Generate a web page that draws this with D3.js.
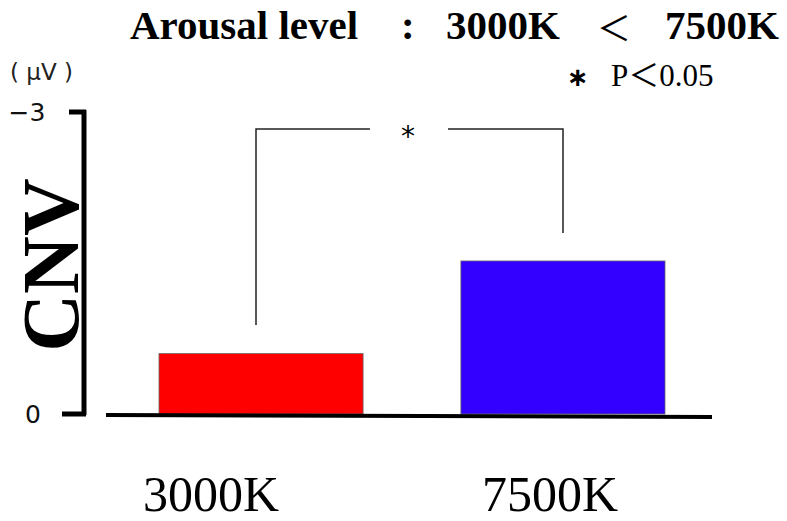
<!DOCTYPE html>
<html>
<head>
<meta charset="utf-8">
<script src="https://cdn.jsdelivr.net/npm/d3@7"></script>
<style>
  body { margin: 0; background: #fff; }
  svg { display: block; }
</style>
</head>
<body>
<svg id="chart" width="787" height="521"></svg>
<script>
// chart data
const categories = ['3000K', '7500K'];
const cnvValues = [-0.6, -1.52];          // µV, negative is up
const barColors = ['#ff0000', '#3300ff'];
const yTicks = [0, -3];
const yTickLabels = ['0', '\u22123'];
const titleParts = ['Arousal level', ':', '3000K', '\uFF1C', '7500K'];
const sigNote = ['\u2217', 'P\uFF1C0.05'];

const serif = "'Liberation Serif', 'Times New Roman', serif";
const cjk = "'Noto Sans CJK JP', sans-serif";
const scan = "'DejaVu Sans', sans-serif";

const svg = d3.select('#chart');

// scales
const x = d3.scaleBand()
  .domain(categories)
  .range([159, 665])
  .paddingInner(0.324)
  .paddingOuter(0);

const y = d3.scaleLinear()
  .domain([0, -3])
  .range([414, 112]);

// title, laid out piece by piece
const titleX = [130, 401, 446, 597, 665];
svg.selectAll('text.title')
  .data(titleParts)
  .enter()
  .append('text')
  .attr('class', 'title')
  .attr('x', (d, i) => titleX[i])
  .attr('y', (d, i) => i === 3 ? 41 : 39)
  .style('font-family', (d, i) => i === 3 ? cjk : serif)
  .style('font-weight', (d, i) => i === 3 ? 'normal' : 'bold')
  .style('font-size', (d, i) => i === 3 ? '34px' : '41px')
  .text(d => d);

// significance note
svg.append('text')
  .attr('x', 567).attr('y', 86)
  .style('font-family', scan)
  .style('font-weight', 'bold')
  .style('font-size', '26px')
  .text(sigNote[0]);
svg.append('text')
  .attr('x', 611).attr('y', 86)
  .style('font-family', serif + ", 'Noto Sans CJK JP'")
  .style('font-size', '31px')
  .text(sigNote[1]);

// unit label
svg.append('text')
  .attr('x', 10).attr('y', 80)
  .style('font-family', scan)
  .style('font-size', '23px')
  .style('fill', '#222')
  .attr('xml:space', 'preserve')
  .text('( \u00B5V )');

// bars
svg.selectAll('rect.bar')
  .data(cnvValues)
  .enter()
  .append('rect')
  .attr('class', 'bar')
  .attr('x', (d, i) => x(categories[i]))
  .attr('y', d => y(d))
  .attr('width', x.bandwidth())
  .attr('height', d => y(0) - y(d))
  .attr('fill', (d, i) => barColors[i])
  .attr('stroke', '#666')
  .attr('stroke-width', 0.8);

// baseline
svg.append('line')
  .attr('x1', 106).attr('x2', 712)
  .attr('y1', y(0) + 1).attr('y2', y(0) + 3)
  .attr('stroke', '#000')
  .attr('stroke-width', 4);

// y axis (hand-drawn look)
const axisX = 84;
svg.append('line')
  .attr('x1', axisX).attr('x2', axisX)
  .attr('y1', y(-3) - 2).attr('y2', y(0) + 1)
  .attr('stroke', '#000')
  .attr('stroke-width', 5);

svg.selectAll('line.ytick')
  .data(yTicks)
  .enter()
  .append('line')
  .attr('class', 'ytick')
  .attr('x1', (d, i) => i === 0 ? 62 : 69)
  .attr('x2', axisX + 2)
  .attr('y1', d => y(d))
  .attr('y2', d => y(d))
  .attr('stroke', '#000')
  .attr('stroke-width', 5);

svg.selectAll('text.ylab')
  .data(yTicks)
  .enter()
  .append('text')
  .attr('class', 'ylab')
  .attr('x', (d, i) => i === 0 ? 33 : 27)
  .attr('y', d => y(d) + 9)
  .attr('text-anchor', 'middle')
  .style('font-family', scan)
  .style('font-size', '25px')
  .style('fill', '#111')
  .text((d, i) => yTickLabels[i]);

// y title
svg.append('text')
  .attr('transform', 'translate(78,265) rotate(-90)')
  .attr('text-anchor', 'middle')
  .style('font-family', serif)
  .style('font-weight', 'bold')
  .style('font-size', '80px')
  .text('CNV');

// x axis labels
const labelShift = [-50, -13];
const xAxis = svg.append('g')
  .attr('transform', 'translate(0,' + 511 + ')')
  .call(d3.axisBottom(x).tickSize(0).tickPadding(0));
xAxis.select('.domain').remove();
xAxis.selectAll('text')
  .attr('dx', (d, i) => labelShift[i])
  .attr('dy', 0)
  .attr('y', 0)
  .style('font-family', serif)
  .style('font-size', '50px')
  .style('fill', '#000');

// significance bracket
const bx1 = 256, bx2 = 563, by = 129;
const bracket = svg.append('g')
  .attr('fill', 'none')
  .attr('stroke', '#222')
  .attr('stroke-width', 1.5);
bracket.append('path')
  .attr('d', `M${bx1},325 L${bx1},${by} L370,${by}`);
bracket.append('path')
  .attr('d', `M448,${by} L${bx2},${by} L${bx2},233`);
svg.append('text')
  .attr('x', 408).attr('y', 146)
  .attr('text-anchor', 'middle')
  .style('font-family', scan)
  .style('font-size', '28px')
  .text('*');
</script>
</body>
</html>
